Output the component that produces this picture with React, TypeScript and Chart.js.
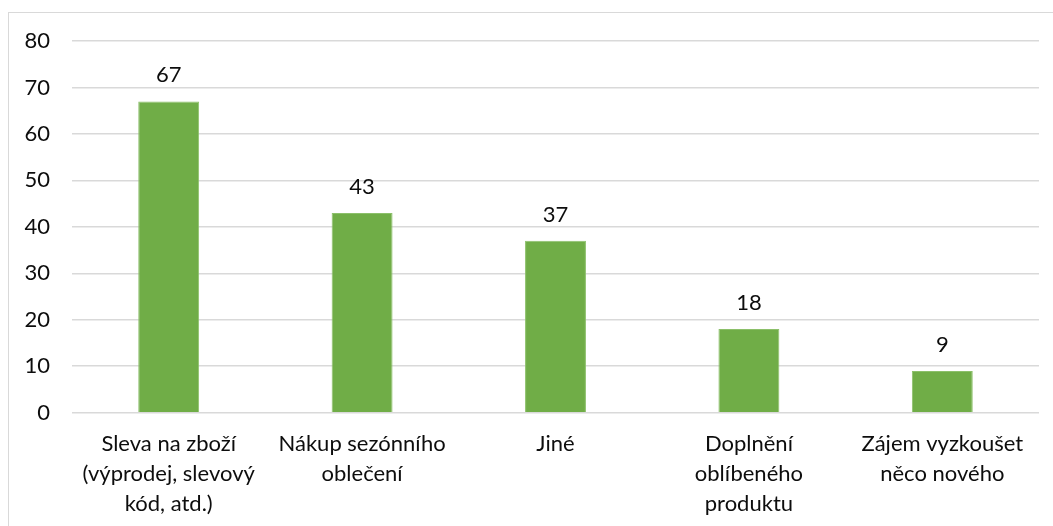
import React, { useEffect, useRef } from "react";
import { Chart, registerables } from "chart.js";

Chart.register(...registerables);

const categories: string[][] = [
  ["Sleva na zboží", "(výprodej, slevový", "kód, atd.)"],
  ["Nákup sezónního", "oblečení"],
  ["Jiné"],
  ["Doplnění", "oblíbeného", "produktu"],
  ["Zájem vyzkoušet", "něco nového"],
];
const values: number[] = [67, 43, 37, 18, 9];
const yTicks: number[] = [0, 10, 20, 30, 40, 50, 60, 70, 80];

const FONT = "Lato, 'Open Sans', sans-serif";
const TEXT = "#0d0d0d";

const valueLabels = {
  id: "valueLabels",
  afterDatasetsDraw(chart: any) {
    const ctx = chart.ctx;
    const meta = chart.getDatasetMeta(0);
    ctx.save();
    ctx.font = `22px ${FONT}`;
    ctx.fillStyle = TEXT;
    ctx.textAlign = "center";
    ctx.textBaseline = "bottom";
    meta.data.forEach((bar: any, i: number) => {
      ctx.fillText(String(values[i]), bar.x, bar.y - 15);
    });
    ctx.restore();
  },
};

export default function App() {
  const ref = useRef<HTMLCanvasElement | null>(null);
  useEffect(() => {
    if (!ref.current) return;
    const chart = new Chart(ref.current, {
      type: "bar",
      data: {
        labels: categories as any,
        datasets: [
          {
            data: values,
            backgroundColor: "#70AD47",
            borderColor: "#8cc06a",
            borderWidth: 1,
            barPercentage: 0.315,
            categoryPercentage: 1,
          },
        ],
      },
      options: {
        animation: false,
        responsive: false,
        maintainAspectRatio: false,
        layout: { padding: { left: 0, right: 14, top: 41, bottom: 0 } },
        plugins: { legend: { display: false }, tooltip: { enabled: false } },
        scales: {
          x: {
            grid: { display: false, drawTicks: false },
            border: { display: false },
            ticks: {
              color: TEXT,
              font: { family: FONT, size: 22, lineHeight: 1.36 },
              padding: 16,
              maxRotation: 0,
              autoSkip: false,
            },
            afterFit(scale: any) {
              scale.height = 113.3;
            },
          },
          y: {
            min: 0,
            max: 80,
            afterBuildTicks(scale: any) {
              scale.ticks = yTicks.map((v) => ({ value: v }));
            },
            grid: { color: "#d9d9d9", lineWidth: 1.5, drawTicks: false },
            border: { display: false },
            ticks: {
              color: TEXT,
              font: { family: FONT, size: 22 },
              padding: 22,
            },
            afterFit(scale: any) {
              scale.width = 72;
            },
          },
        },
      },
      plugins: [valueLabels],
    });
    return () => chart.destroy();
  }, []);
  return (
    <div style={{ position: "fixed", left: 0, top: 0, width: 1053, height: 526, overflow: "hidden", background: "#fff" }}>
      <div
        style={{
          position: "absolute",
          left: 8,
          top: 12,
          width: 1100,
          height: 600,
          borderLeft: "1.5px solid #d9d9d9",
          borderTop: "1.5px solid #d9d9d9",
        }}
      />
      <canvas ref={ref} width={1053} height={526} style={{ position: "absolute", left: 0, top: 0 }} />
    </div>
  );
}
